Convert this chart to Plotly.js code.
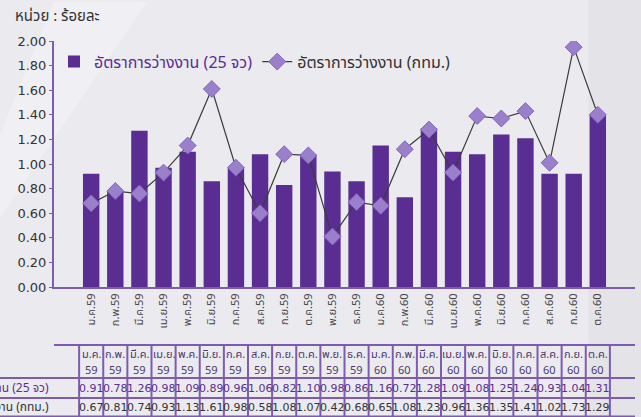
<!DOCTYPE html>
<html>
<head>
<meta charset="utf-8">
<script src="https://cdn.plot.ly/plotly-3.0.1.min.js"></script>
<style>
  html, body { margin: 0; padding: 0; background: #ebeaef; }
  #chart { width: 641px; height: 417px; }
</style>
</head>
<body>
<div id="chart"></div>
<script>
// ---- data ----
const months = ["ม.ค.", "ก.พ.", "มี.ค.", "เม.ย.", "พ.ค.", "มิ.ย.", "ก.ค.", "ส.ค.", "ก.ย.", "ต.ค.", "พ.ย.", "ธ.ค.",
                "ม.ค.", "ก.พ.", "มี.ค.", "เม.ย.", "พ.ค.", "มิ.ย.", "ก.ค.", "ส.ค.", "ก.ย.", "ต.ค."];
const years = ["59","59","59","59","59","59","59","59","59","59","59","59",
               "60","60","60","60","60","60","60","60","60","60"];
// values as drawn in the chart
const rate25 = [0.92, 0.78, 1.27, 0.97, 1.10, 0.86, 0.97, 1.08, 0.83, 1.08, 0.94, 0.86,
                1.15, 0.73, 1.29, 1.10, 1.08, 1.24, 1.21, 0.92, 0.92, 1.40];
const rateBkk = [0.68, 0.78, 0.76, 0.93, 1.15, 1.61, 0.97, 0.60, 1.08, 1.07, 0.41, 0.69,
                 0.66, 1.12, 1.28, 0.93, 1.39, 1.37, 1.43, 1.01, 1.95, 1.40];
// values as printed in the table
const table25 = ["0.91","0.78","1.26","0.98","1.09","0.89","0.96","1.06","0.82","1.10","0.98","0.86",
                 "1.16","0.72","1.28","1.09","1.08","1.25","1.24","0.93","1.04","1.31"];
const tableBkk = ["0.67","0.81","0.74","0.93","1.13","1.61","0.98","0.58","1.08","1.07","0.42","0.68",
                  "0.65","1.08","1.23","0.96","1.36","1.35","1.41","1.02","1.73","1.29"];
const name25 = "อัตราการว่างงาน (25 จว)";
const nameBkk = "อัตราการว่างงาน (กทม.)";
const unitLabel = "หน่วย : ร้อยละ";
const yTicks = [0, 0.2, 0.4, 0.6, 0.8, 1.0, 1.2, 1.4, 1.6, 1.8, 2.0];

const categories = months.map((m, i) => m + years[i]);

const purple = "#5a2d92";
const gridPurple = "#7d5cb0";
const thai = "Tahoma, 'Noto Sans Thai', 'Noto Sans', 'DejaVu Sans', sans-serif";

const traces = [
  {
    type: "bar", x: categories, y: rate25, name: name25,
    marker: { color: purple },
    hoverinfo: "skip"
  },
  {
    type: "scatter", mode: "lines+markers", x: categories, y: rateBkk,
    name: '<span style="color:#333">' + nameBkk + '</span>',
    line: { color: "#3c3c3c", width: 1.2 },
    marker: { symbol: "diamond", size: 13, color: "#9a7fcb", line: { color: "#8566bf", width: 1 } },
    hoverinfo: "skip"
  }
];

// table geometry in paper coords (plot area: y=41..287 px)
const px = p => (287 - p) / 246;
const yTop = px(345), yH = px(378), yR1 = px(398), yBot = px(416.5);

const shapes = [];
const annotations = [];
const lineStyle = { color: gridPurple, width: 2 };

// background streaks
shapes.push({ type: "path", xref: "paper", yref: "paper", layer: "below",
  path: "M -0.0 1.16 L 0.16 1.16 L -0.093 0.28 L -0.093 0.62 Z",
  fillcolor: "rgba(255,255,255,0.25)", line: { width: 0 } });
shapes.push({ type: "rect", xref: "paper", yref: "paper", layer: "below",
  x0: 0.92, x1: 1.02, y0: -0.6, y1: 1.2,
  fillcolor: "rgba(120,115,140,0.06)", line: { width: 0 } });

// horizontal lines
[[yTop, 0.0], [yH, -0.1], [yR1, -0.1], [yBot, -0.1]].forEach(([y, x0]) => {
  shapes.push({ type: "line", xref: "paper", yref: "paper", x0: x0, x1: 1, y0: y, y1: y, line: lineStyle });
});
// vertical lines
for (let i = 0; i <= categories.length; i++) {
  shapes.push({ type: "line", xref: "x", yref: "paper", x0: i - 0.5, x1: i - 0.5, y0: yTop, y1: yBot, line: lineStyle });
}

const cellFont = (color, fam) => ({ family: fam, size: 11, color: color });
categories.forEach((c, i) => {
  annotations.push({ xref: "x", yref: "paper", x: c, y: px(354), yanchor: "middle", borderpad: 0,
    text: months[i], showarrow: false, font: cellFont("#4a3a6a", thai) });
  annotations.push({ xref: "x", yref: "paper", x: c, y: px(370), yanchor: "middle", borderpad: 0,
    text: years[i], showarrow: false, font: cellFont("#4a3a6a", thai) });
  annotations.push({ xref: "x", yref: "paper", x: c, y: (yH + yR1) / 2, yanchor: "middle", borderpad: 0,
    text: table25[i], showarrow: false, font: cellFont(purple, "'DejaVu Sans', sans-serif") });
  annotations.push({ xref: "x", yref: "paper", x: c, y: (yR1 + yBot) / 2, yanchor: "middle", borderpad: 0,
    text: tableBkk[i], showarrow: false, font: cellFont("#333", "'DejaVu Sans', sans-serif") });
});
annotations.push({ xref: "paper", yref: "paper", x: -0.006, xanchor: "right", y: (yH + yR1) / 2, yanchor: "middle",
  text: name25, showarrow: false, font: { family: thai, size: 12, color: purple } });
annotations.push({ xref: "paper", yref: "paper", x: -0.006, xanchor: "right", y: (yR1 + yBot) / 2, yanchor: "middle",
  text: nameBkk, showarrow: false, font: { family: thai, size: 12, color: "#333" } });
// unit label
annotations.push({ xref: "paper", yref: "paper", x: -0.07, xanchor: "left", y: px(16), yanchor: "middle",
  text: unitLabel, showarrow: false, font: { family: thai, size: 15, color: "#333" } });

const layout = {
  width: 641, height: 417,
  margin: { l: 54, r: 6, t: 41, b: 130 },
  paper_bgcolor: "#ebeaef",
  plot_bgcolor: "rgba(0,0,0,0)",
  bargap: 0.32,
  showlegend: true,
  legend: {
    orientation: "h", x: 0.0, y: 0.985, xanchor: "left", yanchor: "top",
    bgcolor: "rgba(0,0,0,0)",
    font: { family: thai, size: 16, color: purple },
    itemwidth: 30
  },
  xaxis: {
    type: "category",
    tickangle: -90,
    tickfont: { family: thai, size: 11, color: "#444" },
    showline: true, linecolor: gridPurple, linewidth: 2,
    ticks: "", showgrid: false, zeroline: false
  },
  yaxis: {
    range: [0, 2],
    tickvals: yTicks,
    tickformat: ".2f",
    tickfont: { family: "'DejaVu Sans', sans-serif", size: 13, color: "#333" },
    showline: true, linecolor: gridPurple, linewidth: 2,
    ticks: "outside", ticklen: 3, tickcolor: gridPurple,
    showgrid: false, zeroline: false
  },
  shapes: shapes,
  annotations: annotations
};

Plotly.newPlot("chart", traces, layout, { displayModeBar: false, staticPlot: true });
</script>
</body>
</html>
